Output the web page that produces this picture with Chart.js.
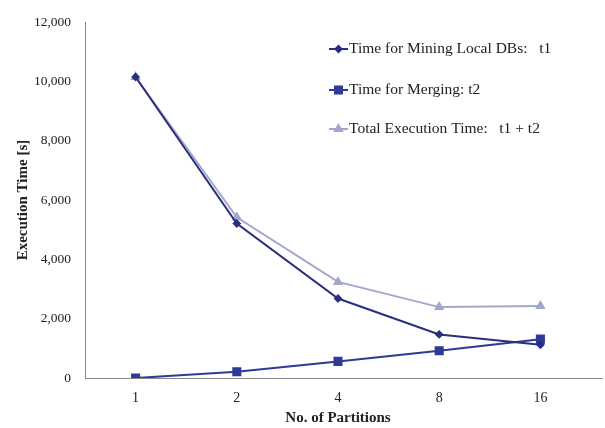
<!DOCTYPE html>
<html>
<head>
<meta charset="utf-8">
<script src="https://cdn.jsdelivr.net/npm/chart.js@4.4.0/dist/chart.umd.min.js"></script>
<style>
  html, body { margin: 0; padding: 0; background: #fff; }
  #wrap { width: 605px; height: 428px; }
</style>
</head>
<body>
<div id="wrap"><canvas id="myChart" width="605" height="428"></canvas></div>
<script>
const partitions = ['1', '2', '4', '8', '16'];
const miningTime = [10150, 5210, 2680, 1470, 1120];
const mergingTime = [0, 210, 560, 920, 1310];
const totalTime = [10150, 5420, 3240, 2390, 2430];
const yTicks = [0, 2000, 4000, 6000, 8000, 10000, 12000];

const serif = '"Liberation Serif", "Times New Roman", serif';

// legend drawn inside the plot, plus the x axis line running a little past the last category
const insideLegend = {
    id: 'insideLegend',
    afterDraw(chart) {
        const ctx = chart.ctx;
        const area = chart.chartArea;
        ctx.save();
        ctx.strokeStyle = '#888';
        ctx.lineWidth = 1;
        ctx.beginPath();
        ctx.moveTo(area.right, area.bottom + 0.5);
        ctx.lineTo(603, area.bottom + 0.5);
        ctx.stroke();

        const rows = [49, 90, 129];
        chart.data.datasets.forEach((ds, i) => {
            const y = rows[i];
            ctx.strokeStyle = ds.borderColor;
            ctx.lineWidth = 2;
            ctx.beginPath();
            ctx.moveTo(329, y);
            ctx.lineTo(348, y);
            ctx.stroke();
            Chart.helpers.drawPoint(ctx, {
                pointStyle: ds.pointStyle,
                radius: ds.pointRadius,
                rotation: 0,
                borderWidth: 1
            }, 338.5, y);
            ctx.fillStyle = ds.borderColor;
            ctx.fill();
            ctx.fillStyle = '#222';
            ctx.font = '15.5px ' + serif;
            ctx.textBaseline = 'middle';
            ctx.textAlign = 'left';
            ctx.fillText(ds.label, 349, y);
        });
        ctx.restore();
    }
};

const ctx = document.getElementById('myChart').getContext('2d');
new Chart(ctx, {
    type: 'line',
    data: {
        labels: partitions,
        datasets: [{
            label: 'Time for Mining Local DBs:   t1',
            data: miningTime,
            borderColor: '#2A2E7E',
            backgroundColor: '#2A2E7E',
            pointStyle: 'rectRot',
            pointRadius: 3,
            borderWidth: 2
        }, {
            label: 'Time for Merging: t2',
            data: mergingTime,
            borderColor: '#2F3A96',
            backgroundColor: '#2F3A96',
            pointStyle: 'rect',
            pointRadius: 5,
            borderWidth: 2
        }, {
            label: 'Total Execution Time:   t1 + t2',
            data: totalTime,
            borderColor: '#A4A7CC',
            backgroundColor: '#A4A7CC',
            pointStyle: 'triangle',
            pointRadius: 4,
            borderWidth: 2
        }]
    },
    options: {
        responsive: false,
        animation: false,
        layout: { padding: { top: 13, right: 14, left: 10, bottom: 0 } },
        plugins: {
            legend: { display: false },
            tooltip: { enabled: false }
        },
        scales: {
            x: {
                offset: true,
                grid: { drawOnChartArea: false, drawTicks: false },
                border: { color: '#888', width: 1 },
                ticks: { color: '#222', font: { family: serif, size: 14 }, padding: 12 },
                title: {
                    display: true, text: 'No. of Partitions', color: '#222',
                    font: { family: serif, size: 15, weight: 'bold' }, padding: { top: 3, bottom: 1 }
                },
                afterFit(scale) { scale.height = 50; }
            },
            y: {
                min: 0,
                max: 12000,
                afterBuildTicks(scale) { scale.ticks = yTicks.map(v => ({ value: v })); },
                grid: { drawOnChartArea: false, drawTicks: false },
                border: { color: '#888', width: 1 },
                ticks: {
                    color: '#222', font: { family: serif, size: 13.5 }, padding: 14,
                    callback: v => v.toLocaleString('en-US')
                },
                title: {
                    display: true, text: 'Execution Time [s]', color: '#222',
                    font: { family: serif, size: 15, weight: 'bold' }
                },
                afterFit(scale) { scale.width = 75; }
            }
        }
    },
    plugins: [insideLegend]
});
</script>
</body>
</html>
